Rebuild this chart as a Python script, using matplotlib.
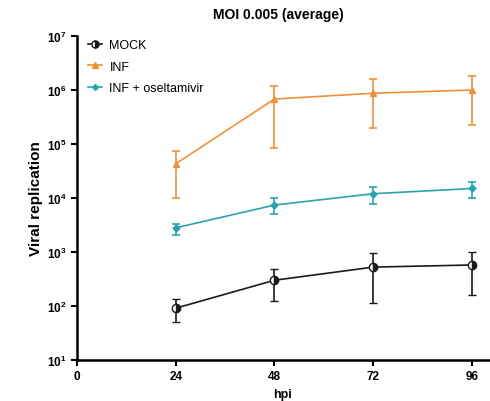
import matplotlib
matplotlib.use("Agg")
import matplotlib.pyplot as plt
from matplotlib.lines import Line2D
import numpy as np

# ── data ────────────────────────────────────────────────────────────────
hpi = [24, 48, 72, 96]

mock_mean = [91, 300, 525, 575]
mock_lo = [50, 124, 115, 160]
mock_hi = [134, 485, 950, 1000]

inf_mean = [4.3e4, 6.8e5, 8.7e5, 1.0e6]
inf_lo = [1.0e4, 8.5e4, 2.0e5, 2.2e5]
inf_hi = [7.4e4, 1.2e6, 1.6e6, 1.8e6]

osel_mean = [2.8e3, 7.4e3, 1.2e4, 1.5e4]
osel_lo = [2.1e3, 5.0e3, 7.8e3, 1.0e4]
osel_hi = [3.3e3, 1.0e4, 1.6e4, 2.0e4]

labels = ["MOCK", "INF", "INF + oseltamivir"]
colors = ["#1a1a1a", "#F0903A", "#2BA3AE"]

plt.rcParams["font.family"] = ["Liberation Sans", "DejaVu Sans"]

fig = plt.figure(figsize=(4.9, 4.02), dpi=100)
ax = fig.add_axes([0.157, 0.102, 0.840, 0.806])

handles = []


def draw(mean, lo, hi, color, marker, label, ms, **kw):
    mean = np.array(mean)
    yerr = [mean - np.array(lo), np.array(hi) - mean]
    ax.errorbar(hpi, mean, yerr=yerr, color=color, marker=marker, ms=ms,
                lw=1.2, elinewidth=1.2, capsize=3, capthick=1.2, **kw)
    handles.append(Line2D([], [], color=color, marker=marker, ms=ms * 0.85,
                          lw=1.2, label=label, **kw))


draw(mock_mean, mock_lo, mock_hi, colors[0], "o", labels[0], 6,
     fillstyle="right", markerfacecoloralt="white", mec=colors[0], mew=1.0)
draw(inf_mean, inf_lo, inf_hi, colors[1], "^", labels[1], 5)
draw(osel_mean, osel_lo, osel_hi, colors[2], "D", labels[2], 3.5)

ax.set_yscale("log")
ax.set_ylim(10, 1e7)
ax.set_xlim(0, 100)
ax.set_xticks([0, 24, 48, 72, 96])
ax.set_yticks([1e1, 1e2, 1e3, 1e4, 1e5, 1e6, 1e7])
ax.minorticks_off()
ax.tick_params(axis="both", labelsize=8.5, width=1.5, length=4)
for lab in ax.get_xticklabels() + ax.get_yticklabels():
    lab.set_fontweight("bold")

for s in ["top", "right"]:
    ax.spines[s].set_visible(False)
for s in ["left", "bottom"]:
    ax.spines[s].set_linewidth(1.8)

ax.set_xlabel("hpi", fontsize=9, fontweight="bold", labelpad=4)
ax.set_ylabel("Viral replication", fontsize=11, fontweight="bold", labelpad=3)
ax.set_title("MOI 0.005 (average)", fontsize=10, fontweight="bold", pad=13,
             x=0.49)

ax.legend(handles=handles, loc="upper left", bbox_to_anchor=(0.0, 1.025),
          frameon=False, fontsize=9, handlelength=1.1, handletextpad=0.6,
          labelspacing=0.75)

fig.savefig("out.png", dpi=100)
